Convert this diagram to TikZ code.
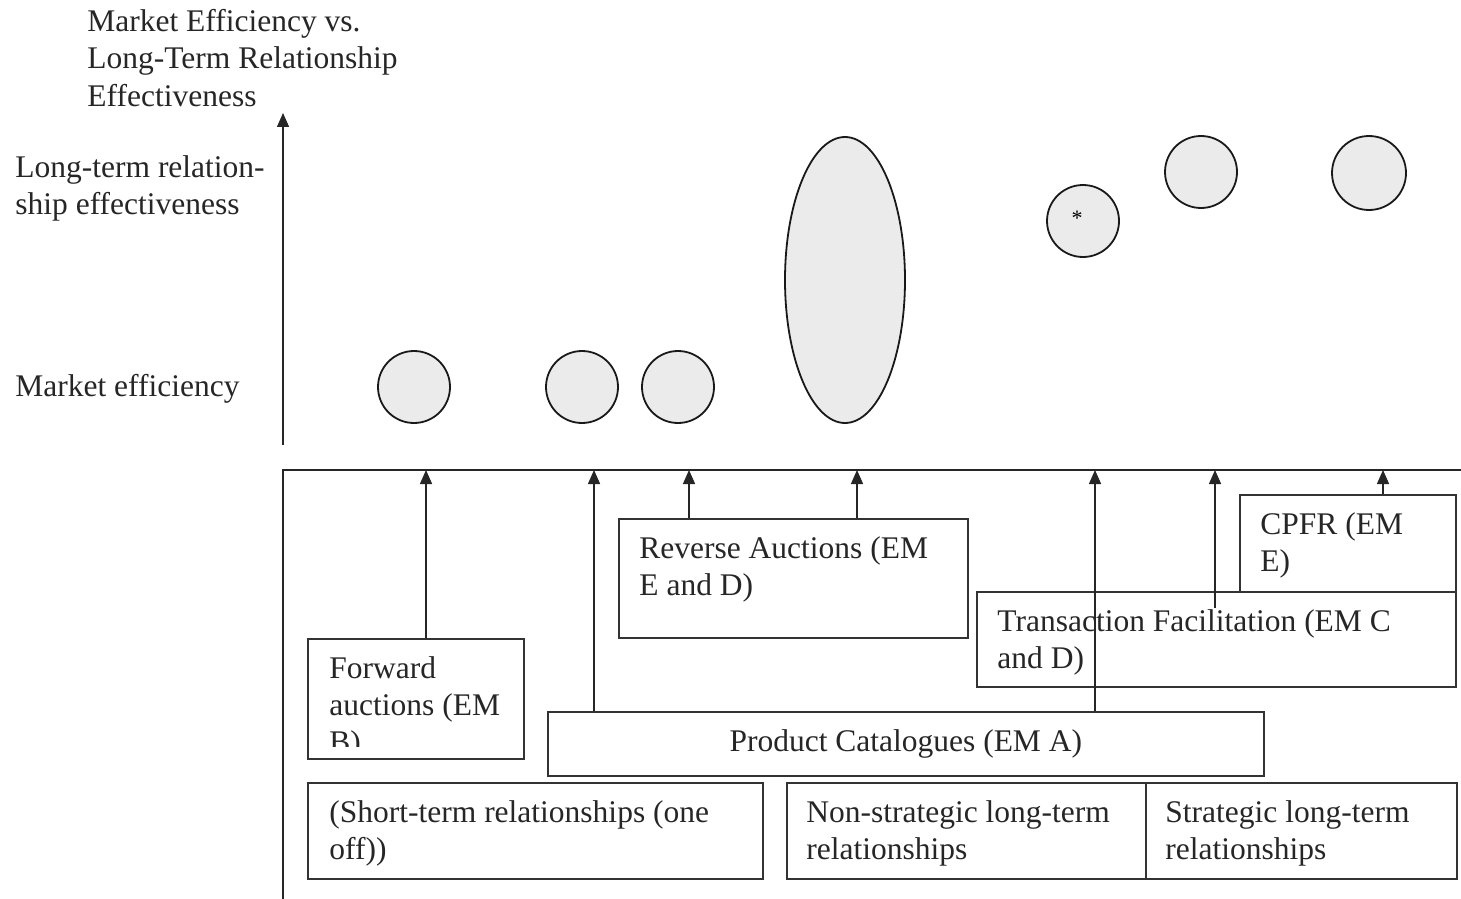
\documentclass[tikz,border=0pt]{standalone}
\usepackage{fontspec}
\setmainfont{Liberation Serif}
\usetikzlibrary{positioning, arrows.meta, shapes.geometric, calc}

\begin{document}
\begin{tikzpicture}[x=0.5pt, y=-0.5pt, font=\fontsize{15.75}{18.5}\selectfont, box/.style={draw=black!80, line width=0.8pt, anchor=north west, inner sep=0pt}, txt/.style={anchor=base west, align=left, inner sep=0pt, text=black!85}, blob/.style={circle, draw=black!90, line width=0.9pt, fill=black!8, minimum size=36pt, inner sep=0pt}, arrow/.style={-{Triangle[length=7pt, width=6pt]}, line width=0.7pt, black!85}]
\useasboundingbox (0,0) rectangle (1461,899);
% axis and its labels (base = last line)
\node[txt] (title) at (87,106) {Market Efficiency vs.\\Long-Term Relationship\\Effectiveness};
\node[txt] (high) at (15,214) {Long-term relation-\\ship effectiveness};
\node[txt] (low) at (15,396) {Market efficiency};
\coordinate (ybot) at (283,445); \coordinate (ytop) at (283,113);
\draw[arrow] (ybot) -- (ytop);
% bubbles
\node[blob] (c1) at (414,387) {};
\node[blob] (c2) at (582,387) {};
\node[blob] (c3) at (678,387) {};
\node[ellipse, draw=black!90, line width=0.9pt, fill=black!8, minimum width=60pt, minimum height=143pt, inner sep=0pt] (ell) at (845,280) {};
\node[blob] (c4) at (1083,221) {};
\node[blob] (c5) at (1201,172) {};
\node[blob, minimum size=37pt] (c6) at (1369,173) {};
\node[inner sep=0pt, font=\fontsize{11}{11}\selectfont] (star) at (1077,218) {*};
% frame
\coordinate (fbot) at (283,899); \coordinate (fright) at (1461,470);
\draw[line width=0.7pt, black!85] (fbot) |- (fright);
% boxes
\node[box, minimum width=108pt, minimum height=48.5pt] (cpfr) at (1239,494) {};
\node[box, minimum width=174.5pt, minimum height=59.5pt] (rev) at (618,518) {};
\node[box, minimum width=239.5pt, minimum height=47.5pt] (trans) at (976,591) {};
\node[box, minimum width=108pt, minimum height=60pt] (fwd) at (307,638) {};
\node[box, minimum width=358pt, minimum height=32pt] (cat) at (547,711) {};
\node[box, minimum width=227.5pt, minimum height=48pt] (short) at (307,782) {};
\node[box, minimum width=179.5pt, minimum height=48pt] (nonstrat) at (786,782) {};
\node[box, minimum width=155.5pt, minimum height=48pt] (strat) at (1145,782) {};
% box texts
\node[txt] (cpfrtxt) at ($(cpfr.north west)+(10.5pt,-38.5pt)$) {CPFR (EM\\E)};
\node[txt] (revtxt) at ($(rev.north west)+(10.5pt,-38.5pt)$) {Reverse Auctions (EM\\E and D)};
\node[txt] (transtxt) at ($(trans.north west)+(10.5pt,-38.5pt)$) {Transaction Facilitation (EM C\\and D)};
\begin{scope}
\clip (307,638) rectangle (523,746);
\node[txt] (fwdtxt) at ($(fwd.north west)+(11pt,-57pt)$) {Forward\\auctions (EM\\B)};
\end{scope}
\node[txt, anchor=base] (cattxt) at ($(cat.north)+(0,-20pt)$) {Product Catalogues (EM A)};
\node[txt] (shorttxt) at ($(short.north west)+(11pt,-38.5pt)$) {(Short-term relationships (one\\off))};
\node[txt] (nonstrattxt) at ($(nonstrat.north west)+(10pt,-38.5pt)$) {Non-strategic long-term\\relationships};
\node[txt] (strattxt) at ($(strat.north west)+(10pt,-38.5pt)$) {Strategic long-term\\relationships};
% arrows up to the frame
\coordinate (t1) at (426,470); \coordinate (t2) at (594,470); \coordinate (t3) at (689,470); \coordinate (t4) at (857,470);
\coordinate (t5) at (1095,470); \coordinate (t6) at (1215,470); \coordinate (t7) at (1383,470);
\draw[arrow] (fwd.north -| t1) -- (t1);\draw[arrow] (cat.north -| t2) -- (t2);\draw[arrow] (rev.north -| t3) -- (t3);\draw[arrow] (rev.north -| t4) -- (t4);
\draw[arrow] (cat.north -| t5) -- (t5);\draw[arrow] ($(trans.north -| t6)+(0,-8.5pt)$) -- (t6);\draw[arrow] (cpfr.north -| t7) -- (t7);
\end{tikzpicture}
\end{document}
